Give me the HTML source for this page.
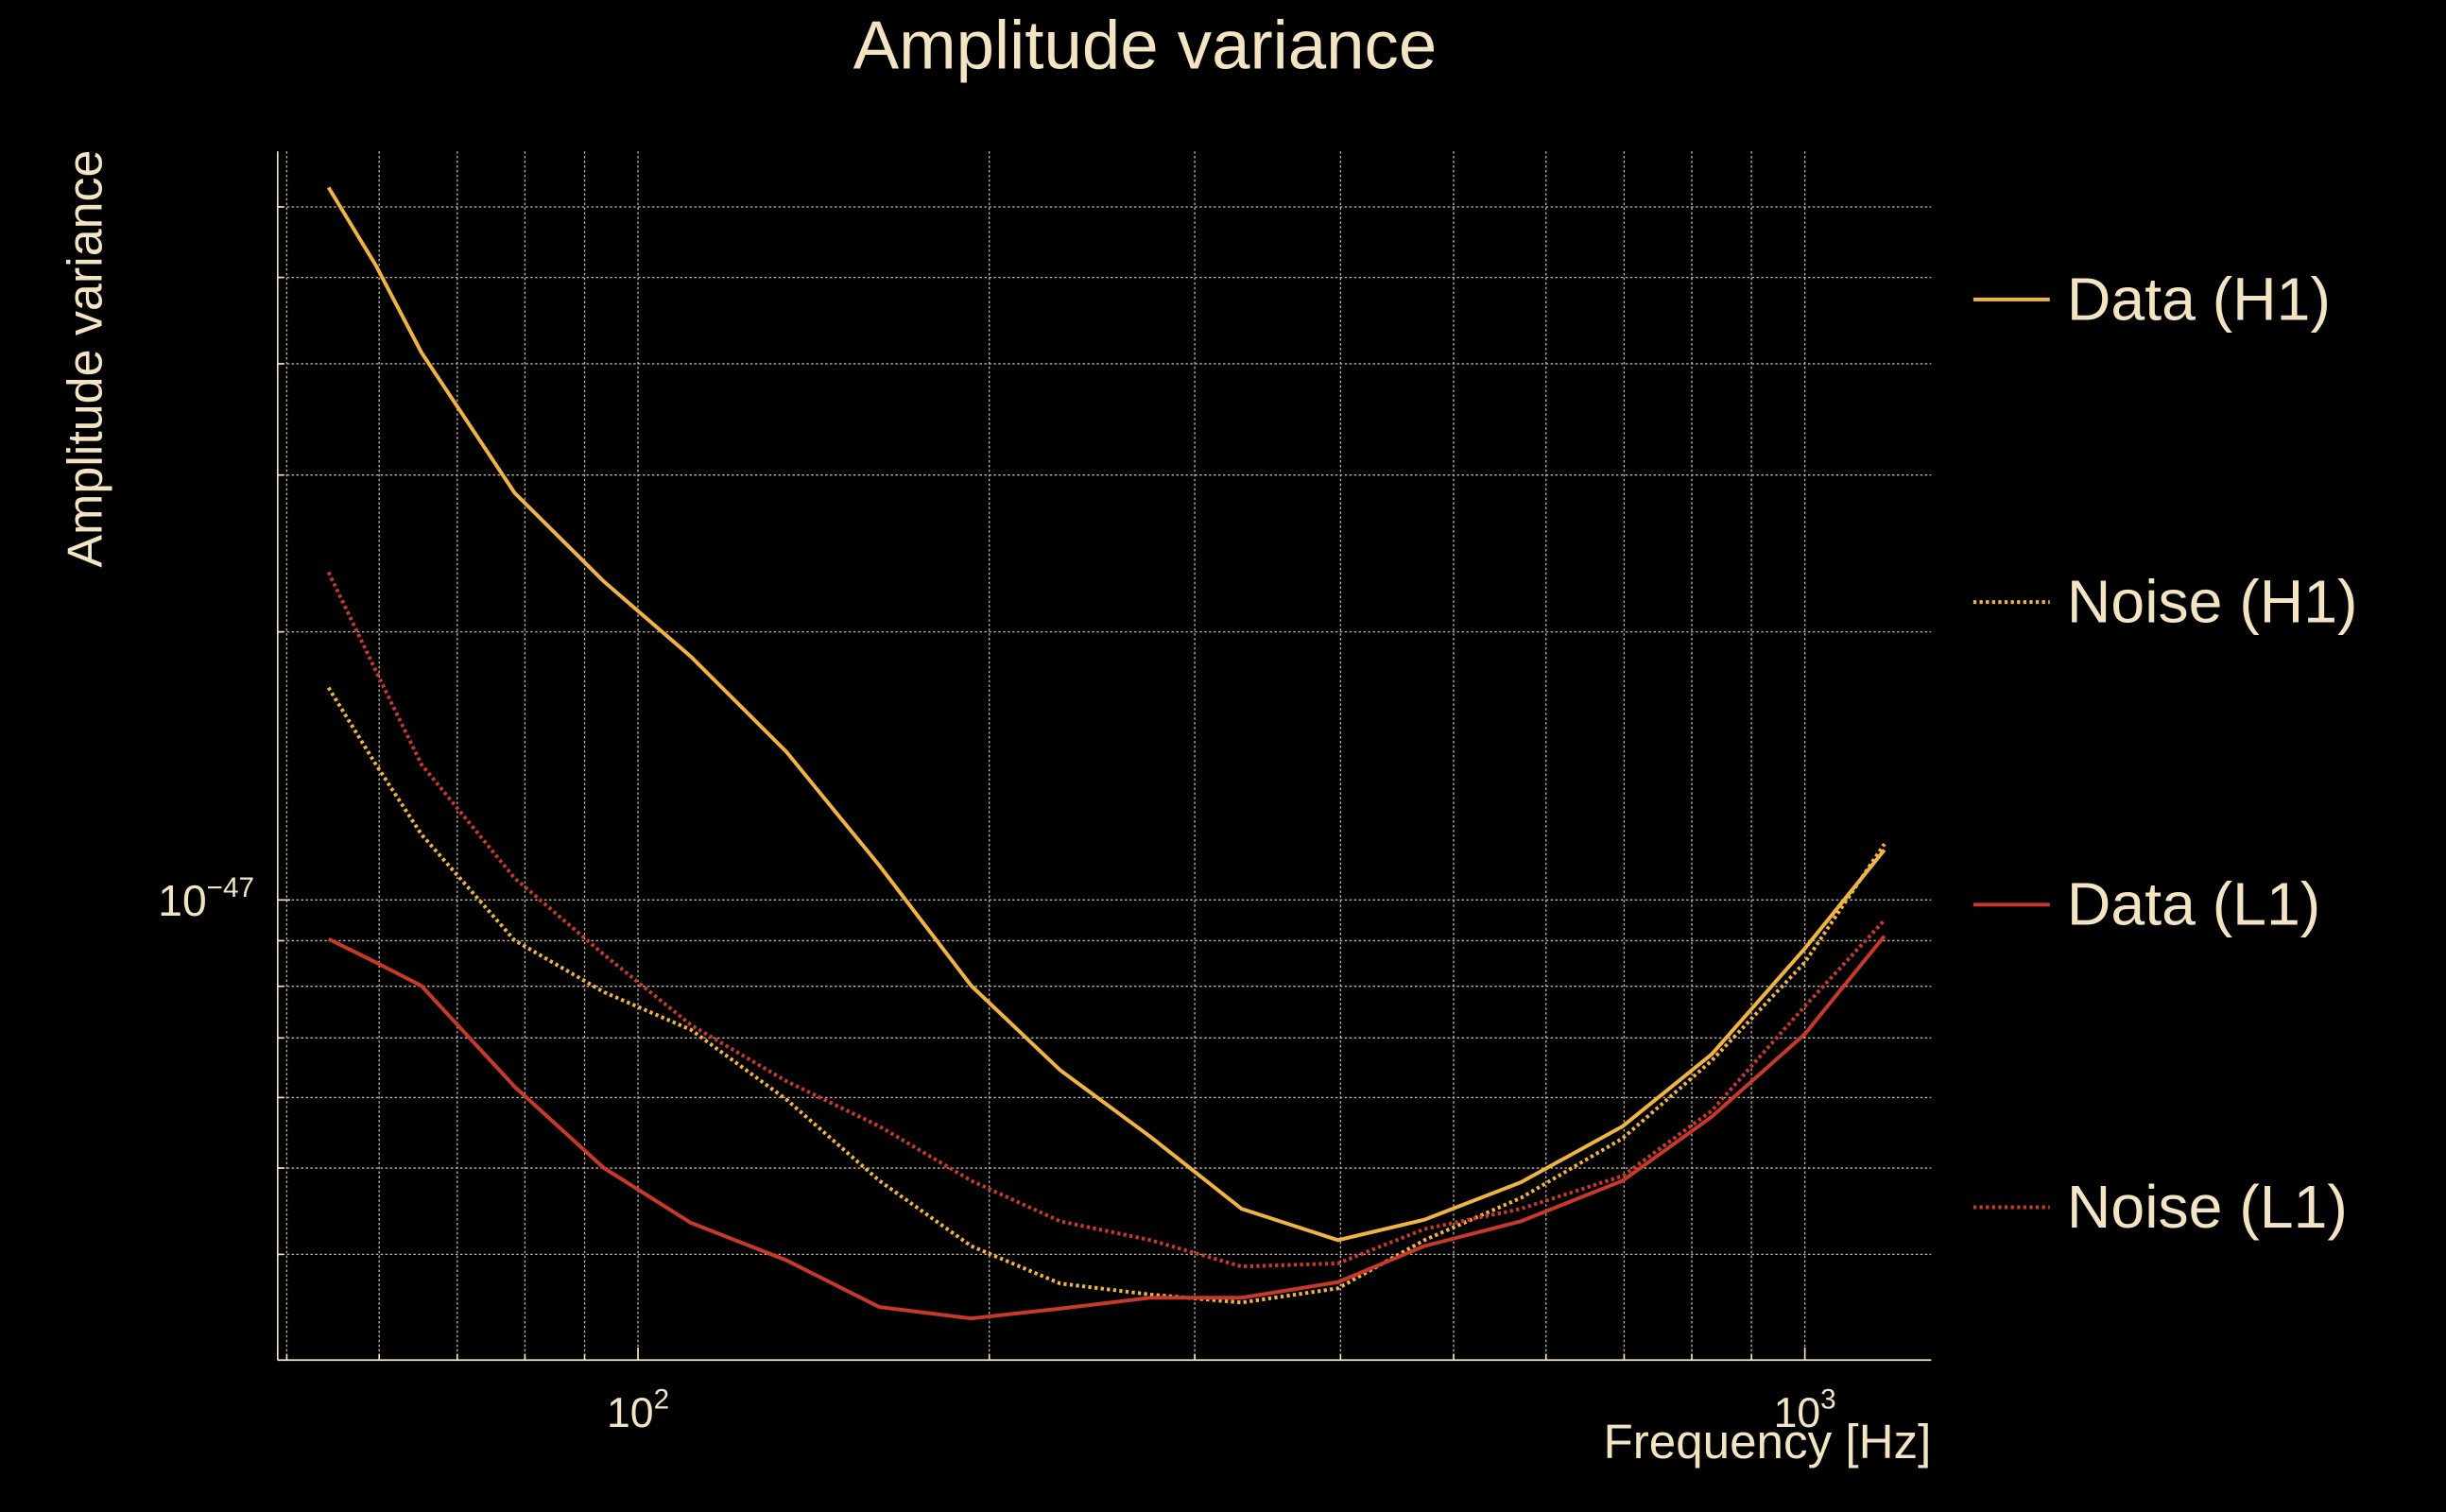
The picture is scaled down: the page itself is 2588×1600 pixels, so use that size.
<!DOCTYPE html>
<html><head><meta charset="utf-8"><style>
html,body{margin:0;padding:0;background:#000;}
svg{display:block;}
text{font-family:"Liberation Sans","DejaVu Sans",sans-serif;fill:#f3e5c3;}
</style></head><body>
<svg id="chart" width="2588" height="1600" viewBox="0 0 1568 969.4" preserveAspectRatio="none" xmlns="http://www.w3.org/2000/svg">
<rect width="1568" height="970" fill="#000"/>
<text x="734" y="44" font-size="44" text-anchor="middle">Amplitude variance</text>
<text transform="translate(65,230) rotate(-90)" font-size="31.5" text-anchor="middle">Amplitude variance</text>
<text x="1238" y="935" font-size="31" text-anchor="end">Frequency [Hz]</text>
<g id="grid"></g>
<g id="axes"></g>
<g id="series"></g>
<g id="legend"></g>
</svg>
<script>
const freqs = [54.3,59.6,65.2,78.4,93.5,111,134,161,193,230,275,329,398,472,571,698,832,1000,1170];
const dataH1 = [6.31e-47,5.16e-47,4.12e-47,2.865e-47,2.277e-47,1.876e-47,1.467e-47,1.093e-47,8.01e-48,6.44e-48,5.42e-48,4.50e-48,4.15e-48,4.375e-48,4.82e-48,5.57e-48,6.71e-48,8.82e-48,1.138e-47];
const noiseH1 = [1.731e-47,1.42e-47,1.185e-47,9.01e-48,7.88e-48,7.15e-48,5.97e-48,4.84e-48,4.086e-48,3.71e-48,3.605e-48,3.532e-48,3.664e-48,4.15e-48,4.63e-48,5.40e-48,6.60e-48,8.51e-48,1.156e-47];
const dataL1 = [9.04e-48,8.51e-48,8.01e-48,6.17e-48,5.0e-48,4.34e-48,3.94e-48,3.49e-48,3.39e-48,3.476e-48,3.576e-48,3.576e-48,3.724e-48,4.086e-48,4.357e-48,4.84e-48,5.71e-48,7.07e-48,9.11e-48];
const noiseL1 = [2.333e-47,1.809e-47,1.42e-47,1.058e-47,8.68e-48,7.24e-48,6.26e-48,5.57e-48,4.84e-48,4.357e-48,4.15e-48,3.876e-48,3.908e-48,4.27e-48,4.50e-48,4.90e-48,5.80e-48,7.60e-48,9.49e-48];
const seriesNames = ["Data (H1)","Noise (H1)","Data (L1)","Noise (L1)"];
const xTickVals = [100,1000];
const xTickExps = ["2","3"];
const yMajor = [1e-47];

const NS="http://www.w3.org/2000/svg";
const X0=178,X1=1238,Y0=97,Y1=872;
function xs(f){return 409+748*Math.log10(f/100);}
function ys(v){return 577-571*(Math.log10(v)+47);}
function mk(tag,attrs,parent){const e=document.createElementNS(NS,tag);for(const k in attrs)e.setAttribute(k,attrs[k]);parent.appendChild(e);return e;}
const grid=document.getElementById('grid'),axes=document.getElementById('axes'),ser=document.getElementById('series'),leg=document.getElementById('legend');
const gstyle={stroke:"#bdb6a6","stroke-width":0.8,"stroke-dasharray":"1.5,1.5"};
const vf=[50,60,70,80,90,100,200,300,400,500,600,700,800,900,1000];
vf.forEach(f=>{const x=xs(f);if(x<X0||x>X1)return;
 const l=mk('line',Object.assign({x1:x,x2:x,y1:Y0,y2:Y1},gstyle),grid);
 
 
 const t=mk('line',{x1:x,x2:x,y1:Y1,y2:Y1-((f===100||f===1000)?8:4),stroke:"#f3e5c3","stroke-width":1},axes);
 
 
});
const hv=[4e-48,5e-48,6e-48,7e-48,8e-48,9e-48,1e-47,2e-47,3e-47,4e-47,5e-47,6e-47];
hv.forEach(v=>{const y=ys(v);
 const l=mk('line',Object.assign({x1:X0,x2:X1,y1:y,y2:y},gstyle),grid);
 
 
 const t=mk('line',{x1:X0,x2:X0+(v===1e-47?8:4),y1:y,y2:y,stroke:"#f3e5c3","stroke-width":1},axes);
 
 
});
let sp=mk('line',{x1:X0,x2:X0,y1:Y0,y2:Y1,stroke:"#f3e5c3","stroke-width":1},axes);


sp=mk('line',{x1:X0,x2:X1,y1:Y1,y2:Y1,stroke:"#f3e5c3","stroke-width":1},axes);


xTickVals.forEach((f,i)=>{const t=mk('text',{x:xs(f),y:915,"font-size":27,"text-anchor":"middle"},axes);
 t.innerHTML='10<tspan font-size="18" dy="-12">'+xTickExps[i]+'</tspan>';
 
 
});
yMajor.forEach(v=>{const t=mk('text',{x:163,y:ys(v)+10,"font-size":28,"text-anchor":"end"},axes);
 t.innerHTML='10<tspan font-size="18" dy="-12">\u2212'+Math.abs(Math.round(Math.log10(v)))+'</tspan>';
 
 
});
const YEL="#f0b443",RED="#c9392a";
const specs=[[dataH1,YEL,null,'data-h1-line'],[noiseH1,YEL,"2,2",'noise-h1-line'],[dataL1,RED,null,'data-l1-line'],[noiseL1,RED,"2,2",'noise-l1-line']];
specs.forEach(s=>{const d=s[0].map((v,i)=>(i?'L':'M')+xs(freqs[i]).toFixed(1)+','+ys(v).toFixed(1)).join(' ');
 const p=mk('path',{d:d,fill:"none",stroke:s[1],"stroke-width":2.4},ser);
 if(s[2])p.setAttribute('stroke-dasharray',s[2]);
 
 
});
const ly=[192,386,580,774];
seriesNames.forEach((n,i)=>{const g=mk('g',{},leg);
 
 
 const l=mk('line',{x1:1265,x2:1314,y1:ly[i],y2:ly[i],stroke:specs[i][1],"stroke-width":2.4},g);
 if(specs[i][2])l.setAttribute('stroke-dasharray',specs[i][2]);
 
 
 const t=mk('text',{x:1325,y:ly[i]+13,"font-size":39},g);
 t.textContent=n;
 
 
});
</script>
</body></html>
